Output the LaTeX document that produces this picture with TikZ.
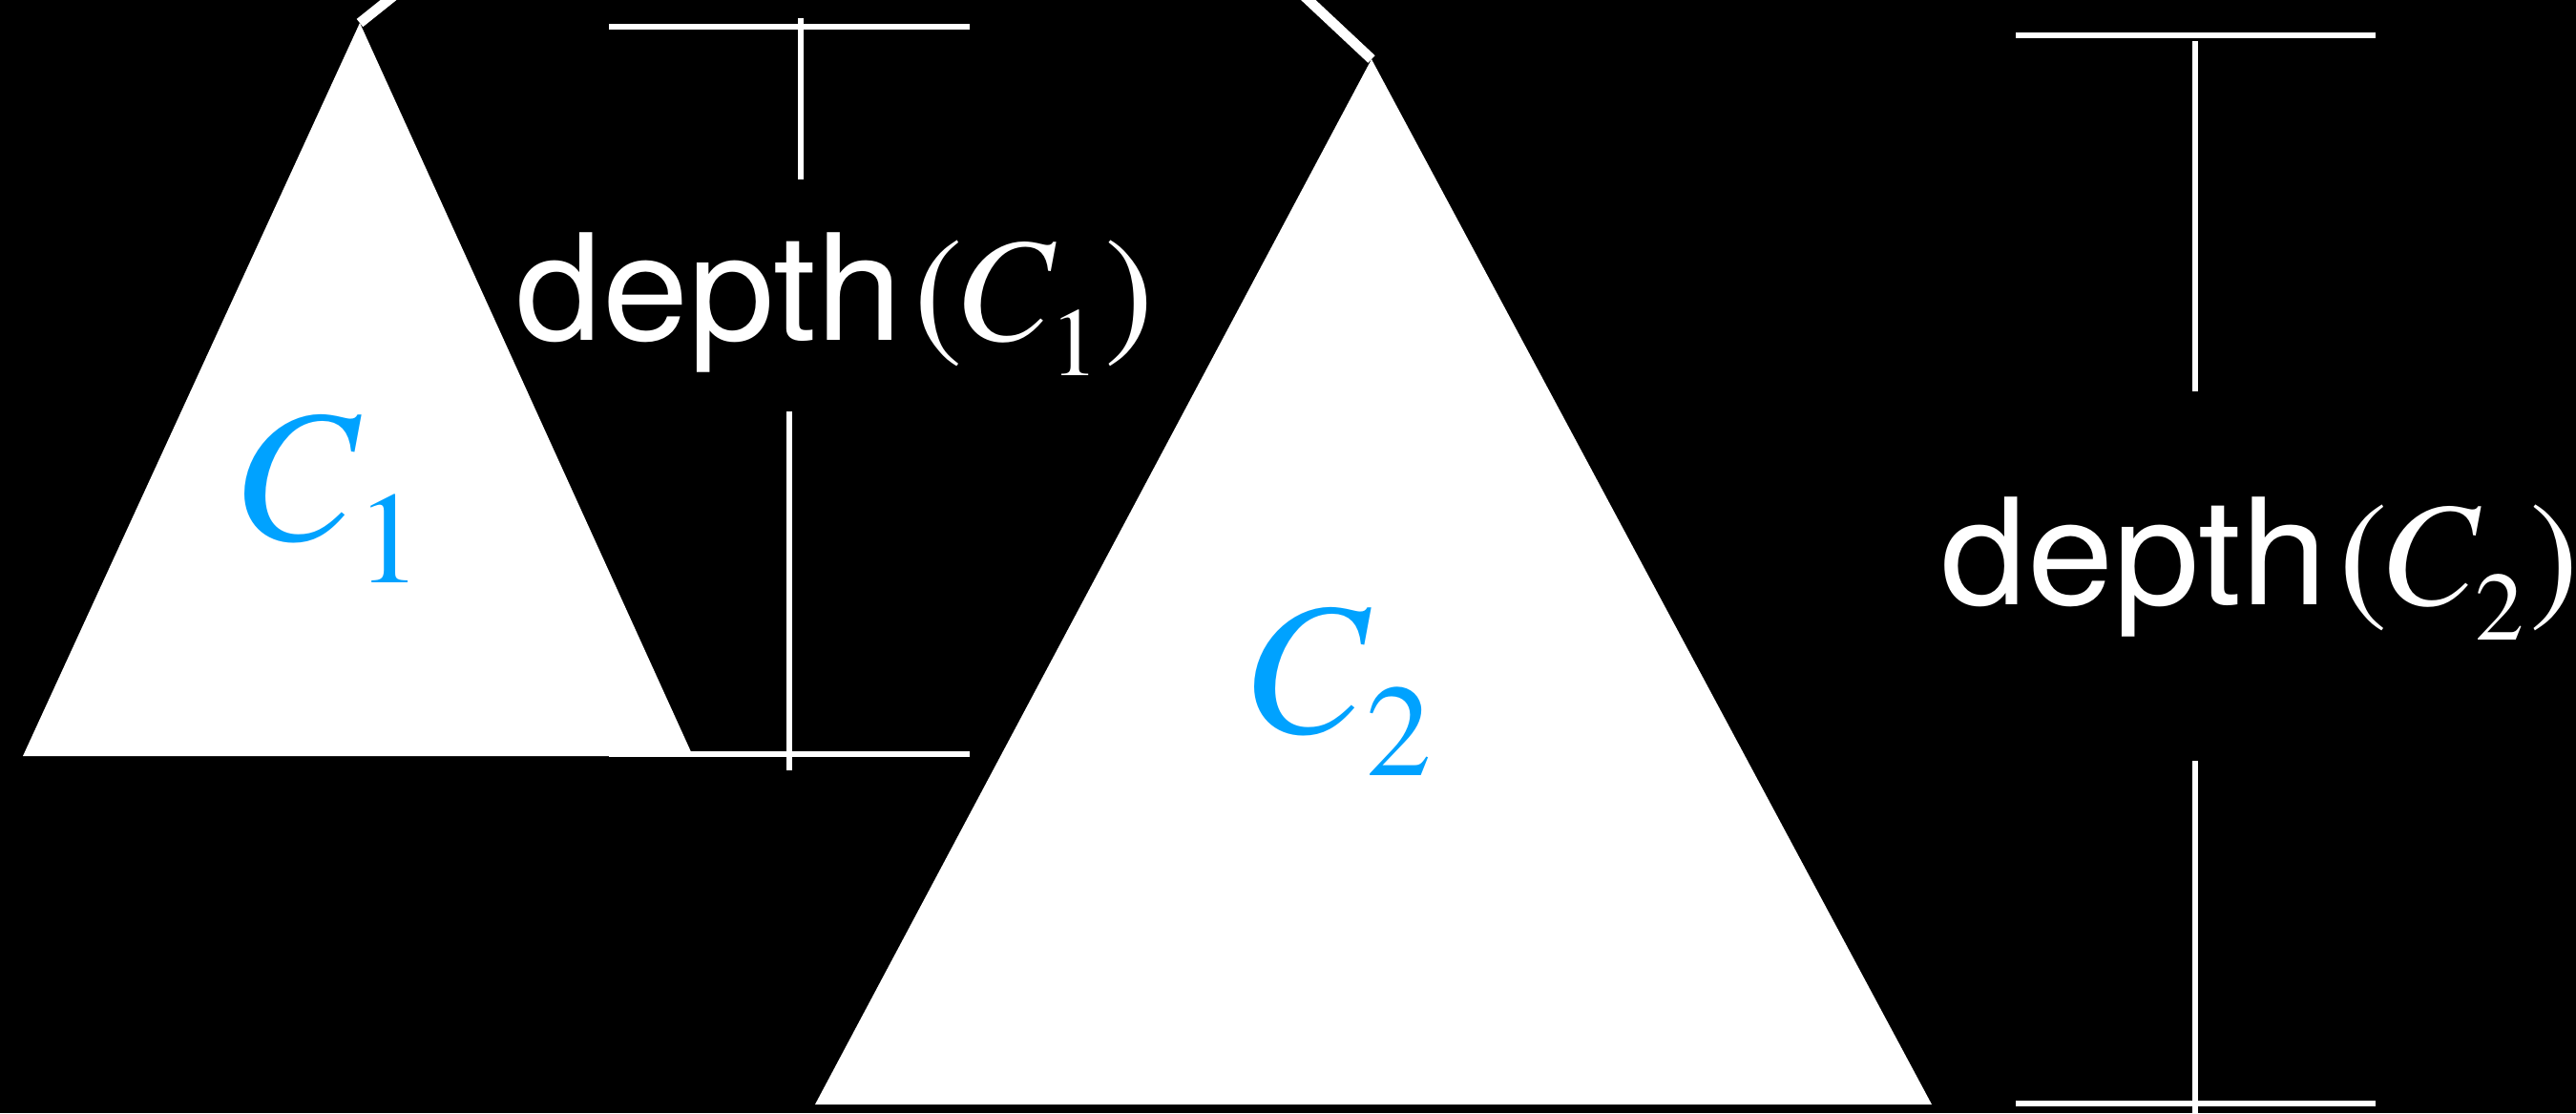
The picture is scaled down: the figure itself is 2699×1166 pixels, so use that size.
\documentclass[tikz,border=0pt]{standalone}
\usepackage{fontspec}
\setmainfont{texgyretermes}[Extension=.otf,UprightFont=*-regular,ItalicFont=*-italic,BoldFont=*-bold,BoldItalicFont=*-bolditalic]
\newfontfamily\hv{texgyreheros}[Extension=.otf,UprightFont=*-regular,BoldFont=*-bold,ItalicFont=*-italic,BoldItalicFont=*-bolditalic,FakeStretch=1.05]
\definecolor{cblue}{HTML}{00A2FF}
\tikzset{
  tri/.style={fill=white},
  stub/.style={draw=white,line width=3pt,line cap=butt},
  hdim/.style={draw=white,line width=1.6pt},
  vdim/.style={draw=white,line width=1.5pt},
  deplabel/.style={anchor=base west,inner sep=0pt,text=white,font=\fontsize{44}{50}\selectfont},
  biglabel/.style={anchor=base west,inner sep=0pt,text=cblue,font=\fontsize{56}{60}\selectfont},
}
\newcommand\depthof[1]{{\hv depth}\kern0.08em(\kern-0.055em\textit{C}\kern-0.045em\raisebox{-0.245em}{\fontsize{29}{30}\selectfont #1}\kern0.04em)}
\newcommand\bigsub[1]{\kern-0.03em\raisebox{-0.23em}{\fontsize{39}{40}\selectfont #1}}
\begin{document}
\begin{tikzpicture}[x=0.01cm,y=-0.01cm]
\useasboundingbox (0,0) rectangle (2699,1166);
\fill[black] (0,0) rectangle (2699,1166);
\clip (0,0) rectangle (2699,1166);
% triangle corners
\coordinate (c1a) at (377,24);
\coordinate (c1l) at (24,792);
\coordinate (c1r) at (726,792);
\coordinate (c2a) at (1437,62);
\coordinate (c2l) at (854,1157);
\coordinate (c2r) at (2024,1157);
\coordinate (p1) at (422,-12);
\coordinate (p2) at (1358,-12);
% subtrees
\fill[tri] (c1a) -- (c1l) -- (c1r) -- cycle;
\fill[tri] (c2a) -- (c2l) -- (c2r) -- cycle;
\draw[stub] (c1a) -- (p1);
\draw[stub] (c2a) -- (p2);
% depth markers C1
\coordinate (d1tl) at (638,28);
\coordinate (d1tr) at (1016,28);
\coordinate (d1vt) at (839,19);
\coordinate (d1vb) at (839,188);
\coordinate (d1bl) at (638,790);
\coordinate (d1br) at (1016,790);
\coordinate (d1ut) at (827,431);
\coordinate (d1ub) at (827,807);
\draw[hdim] (d1tl) -- (d1tr);
\draw[vdim] (d1vt) -- (d1vb);
\draw[hdim] (d1bl) -- (d1br);
\draw[vdim] (d1ut) -- (d1ub);
% depth markers C2
\coordinate (d2tl) at (2112,37);
\coordinate (d2tr) at (2489,37);
\coordinate (d2vt) at (2300,43);
\coordinate (d2vb) at (2300,410);
\coordinate (d2bl) at (2112,1156);
\coordinate (d2br) at (2489,1156);
\coordinate (d2ut) at (2300,797);
\coordinate (d2ub) at (2300,1170);
\draw[hdim] (d2tl) -- (d2tr);
\draw[vdim] (d2vt) -- (d2vb);
\draw[hdim] (d2bl) -- (d2br);
\draw[vdim] (d2ut) -- (d2ub);
% labels
\node[deplabel] (l1) at (540,356) {\depthof{1}};
\node[deplabel] (l2) at (2033,633) {\depthof{2}};
\node[biglabel] (n1) at (243,565) {\textit{C}\bigsub{1}};
\node[biglabel] (n2) at (1301,767) {\textit{C}\bigsub{2}};
\end{tikzpicture}
\end{document}
